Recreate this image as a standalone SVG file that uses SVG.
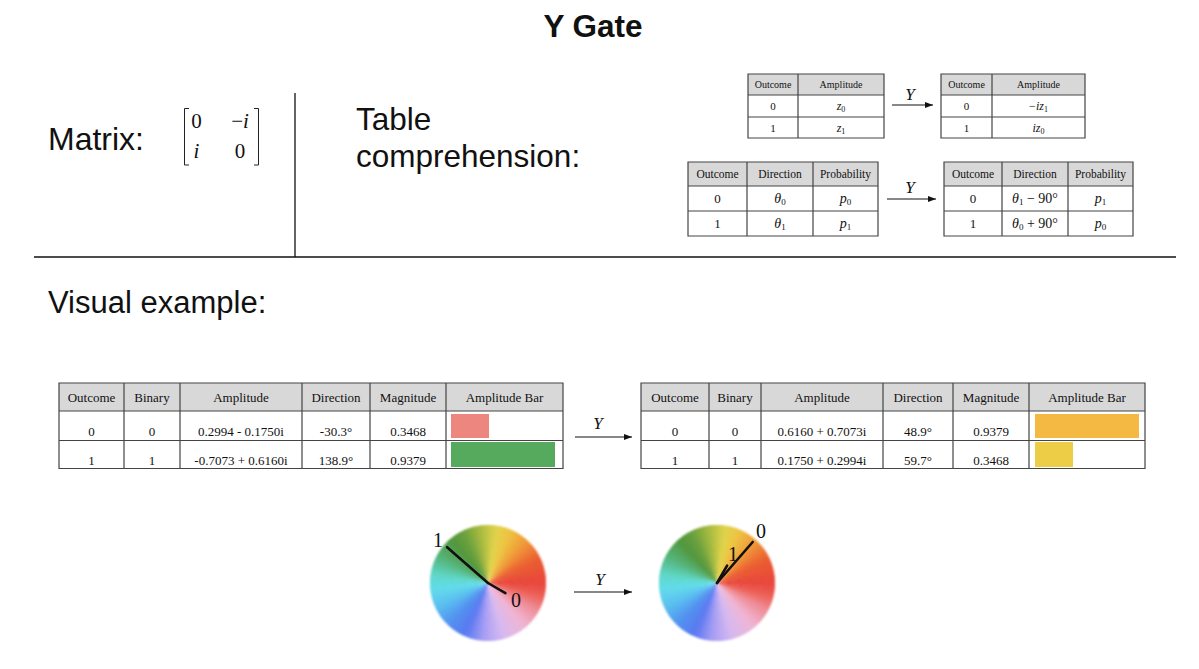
<svg xmlns="http://www.w3.org/2000/svg" xmlns:xlink="http://www.w3.org/1999/xlink" width="1199" height="669" viewBox="0 0 1199 669">
<style>
.sans{font-family:"Liberation Sans",Arial,sans-serif;fill:#111}
.serif{font-family:"Liberation Serif","Times New Roman",serif;fill:#111}
.it{font-style:italic}
.hd{fill:#d8d8d8}
.grid{fill:none;stroke:#444;stroke-width:1.2}
.rule{stroke:#111;stroke-width:1.3}
.arr{stroke:#111;stroke-width:1.2;fill:none}
.vec{stroke:#111;stroke-width:2.6;stroke-linecap:round}
.c{text-anchor:middle}
.h1{font-size:10px}
.h2{font-size:11.5px}
.h3{font-size:13px}
</style>
<defs>
<marker id="ah" markerUnits="userSpaceOnUse" markerWidth="8" markerHeight="6" viewBox="0 0 8 6" refX="8" refY="3" orient="auto"><path d="M0,0 L8,3 L0,6 Z" fill="#111"/></marker>
<path id="w" d="M0 0 L58 0 A58 58 0 0 0 57.73 -5.56 Z"/>
<filter id="soft" x="-10%" y="-10%" width="120%" height="120%"><feGaussianBlur stdDeviation="0.8"/></filter>
<g id="wheel">
<use href="#w" fill="#e84839" transform="rotate(0)"/>
<use href="#w" fill="#e94d38" transform="rotate(-5)"/>
<use href="#w" fill="#e95236" transform="rotate(-10)"/>
<use href="#w" fill="#e95734" transform="rotate(-15)"/>
<use href="#w" fill="#ea5c33" transform="rotate(-20)"/>
<use href="#w" fill="#eb6633" transform="rotate(-25)"/>
<use href="#w" fill="#ec7434" transform="rotate(-30)"/>
<use href="#w" fill="#ee8135" transform="rotate(-35)"/>
<use href="#w" fill="#ef8f36" transform="rotate(-40)"/>
<use href="#w" fill="#f09c38" transform="rotate(-45)"/>
<use href="#w" fill="#efa73b" transform="rotate(-50)"/>
<use href="#w" fill="#efb23d" transform="rotate(-55)"/>
<use href="#w" fill="#eebd40" transform="rotate(-60)"/>
<use href="#w" fill="#ecc643" transform="rotate(-65)"/>
<use href="#w" fill="#e8cb46" transform="rotate(-70)"/>
<use href="#w" fill="#e3d149" transform="rotate(-75)"/>
<use href="#w" fill="#d9d049" transform="rotate(-80)"/>
<use href="#w" fill="#c8c946" transform="rotate(-85)"/>
<use href="#w" fill="#b7c243" transform="rotate(-90)"/>
<use href="#w" fill="#a6ba40" transform="rotate(-95)"/>
<use href="#w" fill="#95b33f" transform="rotate(-100)"/>
<use href="#w" fill="#83ab3e" transform="rotate(-105)"/>
<use href="#w" fill="#72a43d" transform="rotate(-110)"/>
<use href="#w" fill="#659e3c" transform="rotate(-115)"/>
<use href="#w" fill="#5d9b3c" transform="rotate(-120)"/>
<use href="#w" fill="#54983c" transform="rotate(-125)"/>
<use href="#w" fill="#519a44" transform="rotate(-130)"/>
<use href="#w" fill="#52a153" transform="rotate(-135)"/>
<use href="#w" fill="#53a962" transform="rotate(-140)"/>
<use href="#w" fill="#54b071" transform="rotate(-145)"/>
<use href="#w" fill="#56b882" transform="rotate(-150)"/>
<use href="#w" fill="#59c196" transform="rotate(-155)"/>
<use href="#w" fill="#5bcaaa" transform="rotate(-160)"/>
<use href="#w" fill="#5ed3be" transform="rotate(-165)"/>
<use href="#w" fill="#60d8ce" transform="rotate(-170)"/>
<use href="#w" fill="#61dada" transform="rotate(-175)"/>
<use href="#w" fill="#62dbe5" transform="rotate(-180)"/>
<use href="#w" fill="#61d8ec" transform="rotate(-185)"/>
<use href="#w" fill="#5fd1ed" transform="rotate(-190)"/>
<use href="#w" fill="#5dc9ee" transform="rotate(-195)"/>
<use href="#w" fill="#5bc2ef" transform="rotate(-200)"/>
<use href="#w" fill="#59b8f0" transform="rotate(-205)"/>
<use href="#w" fill="#56adf0" transform="rotate(-210)"/>
<use href="#w" fill="#54a2f0" transform="rotate(-215)"/>
<use href="#w" fill="#5197f0" transform="rotate(-220)"/>
<use href="#w" fill="#518ef0" transform="rotate(-225)"/>
<use href="#w" fill="#5488f0" transform="rotate(-230)"/>
<use href="#w" fill="#5682f0" transform="rotate(-235)"/>
<use href="#w" fill="#597bf0" transform="rotate(-240)"/>
<use href="#w" fill="#647df1" transform="rotate(-245)"/>
<use href="#w" fill="#7887f2" transform="rotate(-250)"/>
<use href="#w" fill="#8c91f3" transform="rotate(-255)"/>
<use href="#w" fill="#a09bf4" transform="rotate(-260)"/>
<use href="#w" fill="#b0a3f4" transform="rotate(-265)"/>
<use href="#w" fill="#bba9f3" transform="rotate(-270)"/>
<use href="#w" fill="#c6b0f2" transform="rotate(-275)"/>
<use href="#w" fill="#d1b6f1" transform="rotate(-280)"/>
<use href="#w" fill="#dab9ed" transform="rotate(-285)"/>
<use href="#w" fill="#dfb8e7" transform="rotate(-290)"/>
<use href="#w" fill="#e4b7e1" transform="rotate(-295)"/>
<use href="#w" fill="#e9b6db" transform="rotate(-300)"/>
<use href="#w" fill="#eeb5d5" transform="rotate(-305)"/>
<use href="#w" fill="#f0afcb" transform="rotate(-310)"/>
<use href="#w" fill="#f0a5bc" transform="rotate(-315)"/>
<use href="#w" fill="#f09bad" transform="rotate(-320)"/>
<use href="#w" fill="#f0919e" transform="rotate(-325)"/>
<use href="#w" fill="#ef858b" transform="rotate(-330)"/>
<use href="#w" fill="#ee7676" transform="rotate(-335)"/>
<use href="#w" fill="#ed6760" transform="rotate(-340)"/>
<use href="#w" fill="#eb5b50" transform="rotate(-345)"/>
<use href="#w" fill="#ea5248" transform="rotate(-350)"/>
<use href="#w" fill="#e94a3f" transform="rotate(-355)"/>
</g>
<g id="wheelSmooth" filter="url(#soft)">
<use href="#wheel"/>
<use href="#wheel" transform="rotate(-2.5)" opacity="0.5"/>
</g>
</defs>
<rect width="1199" height="669" fill="#fff"/>

<g id="title"><text class="sans c" x="593" y="37" font-size="31.5" font-weight="bold">Y Gate</text></g>

<g id="dividers">
<line class="rule" x1="295" y1="93" x2="295" y2="257"/>
<line class="rule" x1="34" y1="257" x2="1176" y2="257"/>
</g>

<g id="matrix-label"><text class="sans" x="48" y="150" font-size="32">Matrix:</text></g>

<g id="matrix">
<path d="M189 108.5 H184.5 V165 H189 M254 108.5 H258.5 V165 H254" fill="none" stroke="#222" stroke-width="1"/>
<text class="serif c" x="196.5" y="128" font-size="21">0</text>
<text class="serif c" x="240" y="128" font-size="21">−<tspan class="it">i</tspan></text>
<text class="serif c it" x="196.5" y="158" font-size="21">i</text>
<text class="serif c" x="240" y="158" font-size="21">0</text>
</g>

<g id="table-comprehension-label">
<text class="sans" x="356" y="130" font-size="31.5">Table</text>
<text class="sans" x="356" y="167" font-size="31.5">comprehension:</text>
</g>

<g id="visual-example-label"><text class="sans" x="48" y="313" font-size="31">Visual example:</text></g>

<g id="table-amp-in">
<rect class="hd" x="748" y="74" width="136" height="21"/>
<path class="grid" d="M748 74 H884 V138 H748 Z M748 95 H884 M748 117 H884 M798 74 V138"/>
<text class="serif c h1" x="773" y="88">Outcome</text>
<text class="serif c h1" x="841" y="88">Amplitude</text>
<text class="serif c" x="773" y="110" font-size="11">0</text>
<text class="serif c" x="773" y="131.5" font-size="11">1</text>
<text class="serif c" x="841" y="110" font-size="12"><tspan class="it">z</tspan><tspan font-size="8" dy="2">0</tspan></text>
<text class="serif c" x="841" y="131.5" font-size="12"><tspan class="it">z</tspan><tspan font-size="8" dy="2">1</tspan></text>
</g>

<g id="table-amp-out">
<rect class="hd" x="941" y="74" width="144" height="21"/>
<path class="grid" d="M941 74 H1085 V138 H941 Z M941 95 H1085 M941 117 H1085 M992 74 V138"/>
<text class="serif c h1" x="966.5" y="88">Outcome</text>
<text class="serif c h1" x="1038.5" y="88">Amplitude</text>
<text class="serif c" x="966.5" y="110" font-size="11">0</text>
<text class="serif c" x="966.5" y="131.5" font-size="11">1</text>
<text class="serif c" x="1038.5" y="110" font-size="12">−<tspan class="it">iz</tspan><tspan font-size="8" dy="2">1</tspan></text>
<text class="serif c" x="1038.5" y="131.5" font-size="12"><tspan class="it">iz</tspan><tspan font-size="8" dy="2">0</tspan></text>
</g>

<g id="table-dir-in">
<rect class="hd" x="688" y="162" width="190" height="24"/>
<path class="grid" d="M688 162 H878 V236 H688 Z M688 186 H878 M688 211 H878 M747 162 V236 M813 162 V236"/>
<text class="serif c h2" x="717.5" y="178">Outcome</text>
<text class="serif c h2" x="780" y="178">Direction</text>
<text class="serif c h2" x="845.5" y="178">Probability</text>
<text class="serif c" x="717.5" y="203" font-size="13">0</text>
<text class="serif c" x="717.5" y="228" font-size="13">1</text>
<text class="serif c" x="780" y="203" font-size="14"><tspan class="it">θ</tspan><tspan font-size="9" dy="2">0</tspan></text>
<text class="serif c" x="780" y="228" font-size="14"><tspan class="it">θ</tspan><tspan font-size="9" dy="2">1</tspan></text>
<text class="serif c" x="845.5" y="203" font-size="14"><tspan class="it">p</tspan><tspan font-size="9" dy="2">0</tspan></text>
<text class="serif c" x="845.5" y="228" font-size="14"><tspan class="it">p</tspan><tspan font-size="9" dy="2">1</tspan></text>
</g>

<g id="table-dir-out">
<rect class="hd" x="944" y="162" width="189" height="24"/>
<path class="grid" d="M944 162 H1133 V236 H944 Z M944 186 H1133 M944 211 H1133 M1002 162 V236 M1068 162 V236"/>
<text class="serif c h2" x="973" y="178">Outcome</text>
<text class="serif c h2" x="1035" y="178">Direction</text>
<text class="serif c h2" x="1100.5" y="178">Probability</text>
<text class="serif c" x="973" y="203" font-size="13">0</text>
<text class="serif c" x="973" y="228" font-size="13">1</text>
<text class="serif c" x="1035" y="203" font-size="14"><tspan class="it">θ</tspan><tspan font-size="9" dy="2">1</tspan><tspan dy="-2"> − 90°</tspan></text>
<text class="serif c" x="1035" y="228" font-size="14"><tspan class="it">θ</tspan><tspan font-size="9" dy="2">0</tspan><tspan dy="-2"> + 90°</tspan></text>
<text class="serif c" x="1100.5" y="203" font-size="14"><tspan class="it">p</tspan><tspan font-size="9" dy="2">1</tspan></text>
<text class="serif c" x="1100.5" y="228" font-size="14"><tspan class="it">p</tspan><tspan font-size="9" dy="2">0</tspan></text>
</g>

<g id="table-state-in">
<rect class="hd" x="59" y="383" width="504" height="28"/>
<rect x="451" y="414" width="38" height="24" fill="#ee8680"/>
<rect x="451" y="442" width="104" height="25" fill="#56aa5e"/>
<path class="grid" d="M59 383 H563 V468.5 H59 Z M59 411 H563 M59 440.5 H563 M124 383 V468.5 M180 383 V468.5 M302 383 V468.5 M370 383 V468.5 M446 383 V468.5"/>
<text class="serif c h3" x="91.5" y="401.5">Outcome</text>
<text class="serif c h3" x="152" y="401.5">Binary</text>
<text class="serif c h3" x="241" y="401.5">Amplitude</text>
<text class="serif c h3" x="336" y="401.5">Direction</text>
<text class="serif c h3" x="408" y="401.5">Magnitude</text>
<text class="serif c h3" x="504.5" y="401.5">Amplitude Bar</text>
<text class="serif c h3" x="91.5" y="436">0</text>
<text class="serif c h3" x="152" y="436">0</text>
<text class="serif c h3" x="241" y="436">0.2994 - 0.1750i</text>
<text class="serif c h3" x="336" y="436">-30.3°</text>
<text class="serif c h3" x="408" y="436">0.3468</text>
<text class="serif c h3" x="91.5" y="464.5">1</text>
<text class="serif c h3" x="152" y="464.5">1</text>
<text class="serif c h3" x="241" y="464.5">-0.7073 + 0.6160i</text>
<text class="serif c h3" x="336" y="464.5">138.9°</text>
<text class="serif c h3" x="408" y="464.5">0.9379</text>
</g>

<g id="table-state-out">
<rect class="hd" x="641" y="383" width="504" height="28"/>
<rect x="1035" y="414" width="104" height="24" fill="#f4b942"/>
<rect x="1035" y="442" width="38" height="25" fill="#eccd45"/>
<path class="grid" d="M641 383 H1145 V468.5 H641 Z M641 411 H1145 M641 440.5 H1145 M709 383 V468.5 M761 383 V468.5 M883 383 V468.5 M953 383 V468.5 M1029 383 V468.5"/>
<text class="serif c h3" x="675" y="401.5">Outcome</text>
<text class="serif c h3" x="735" y="401.5">Binary</text>
<text class="serif c h3" x="822" y="401.5">Amplitude</text>
<text class="serif c h3" x="918" y="401.5">Direction</text>
<text class="serif c h3" x="991" y="401.5">Magnitude</text>
<text class="serif c h3" x="1087" y="401.5">Amplitude Bar</text>
<text class="serif c h3" x="675" y="436">0</text>
<text class="serif c h3" x="735" y="436">0</text>
<text class="serif c h3" x="822" y="436">0.6160 + 0.7073i</text>
<text class="serif c h3" x="918" y="436">48.9°</text>
<text class="serif c h3" x="991" y="436">0.9379</text>
<text class="serif c h3" x="675" y="464.5">1</text>
<text class="serif c h3" x="735" y="464.5">1</text>
<text class="serif c h3" x="822" y="464.5">0.1750 + 0.2994i</text>
<text class="serif c h3" x="918" y="464.5">59.7°</text>
<text class="serif c h3" x="991" y="464.5">0.3468</text>
</g>

<g id="wheel-in">
<use href="#wheelSmooth" transform="translate(488,583)"/>
<line class="vec" x1="488" y1="583" x2="447.1" y2="547.2"/>
<line class="vec" x1="488" y1="583" x2="505.4" y2="593.1"/>
<text class="serif c" x="438" y="547" font-size="20">1</text>
<text class="serif c" x="516" y="607" font-size="20">0</text>
</g>

<g id="wheel-out">
<use href="#wheelSmooth" transform="translate(717,583)"/>
<line class="vec" x1="717" y1="583" x2="752.7" y2="542"/>
<line class="vec" x1="717" y1="583" x2="727.1" y2="565.6"/>
<text class="serif c" x="761" y="538" font-size="20">0</text>
<text class="serif c" x="733" y="561" font-size="20">1</text>
</g>

<g id="connectors">
<line class="arr" x1="892" y1="105" x2="933" y2="105" marker-end="url(#ah)"/>
<text class="serif c it" x="910" y="100" font-size="17">Y</text>
<line class="arr" x1="887" y1="199" x2="936" y2="199" marker-end="url(#ah)"/>
<text class="serif c it" x="910" y="193" font-size="17">Y</text>
<line class="arr" x1="575" y1="437" x2="632" y2="437" marker-end="url(#ah)"/>
<text class="serif c it" x="598" y="429" font-size="17">Y</text>
<line class="arr" x1="574" y1="592" x2="632" y2="592" marker-end="url(#ah)"/>
<text class="serif c it" x="600" y="585" font-size="17">Y</text>
</g>
</svg>
